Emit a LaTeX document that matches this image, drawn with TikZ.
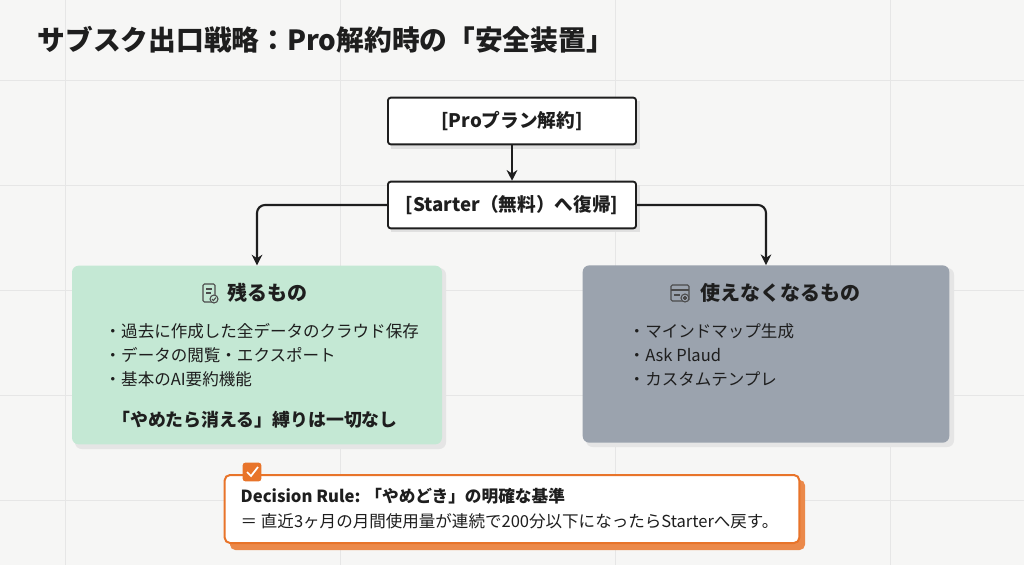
\documentclass[tikz,border=0pt]{standalone}
\usepackage{fontspec}
\setmainfont{Noto Sans CJK JP}
\usetikzlibrary{arrows.meta}
\definecolor{bg}{HTML}{F6F6F5}
\definecolor{gridc}{HTML}{E6E6E6}
\definecolor{greenbox}{HTML}{C4E8D4}
\definecolor{graybox}{HTML}{9BA3AE}
\definecolor{orng}{HTML}{E8742A}
\definecolor{ink}{HTML}{1E1E1E}
\tikzset{
  flow/.style={draw=ink, line width=1.4pt, fill=white, rounded corners=2pt, minimum width=186pt, minimum height=35pt, font=\fontsize{14}{16}\selectfont\bfseries, text=ink},
  conn/.style={draw=ink, line width=1.6pt, -{Stealth[length=8pt,width=8pt]}},
  panel/.style={rounded corners=5pt, minimum height=134pt, minimum width=277pt},
  bul/.style={anchor=west, font=\fontsize{12.4}{14}\selectfont, text=ink},
  ttl/.style={font=\fontsize{15}{17}\selectfont\bfseries, text=ink},
}
\begin{document}
\begin{tikzpicture}[x=0.75pt,y=-0.75pt]
\fill[bg] (0,0) rectangle (1024,565);
\useasboundingbox (0,0) rectangle (1024,565);
\foreach \x in {65,340,615,890} \draw[gridc] (\x,0) -- (\x,565);
\foreach \y in {80,185,290,395,500} \draw[gridc] (0,\y) -- (1024,\y);
\node[anchor=west, font=\fontsize{20.8}{23}\selectfont\bfseries, text=ink] (title) at (33,40) {サブスク出口戦略：Pro解約時の「安全装置」};
% shadows
\fill[black!12] (391,101) rectangle (640,149);
\fill[black!12] (391,185) rectangle (640,232);
\node[flow] (b1) at (512,121) {[Proプラン解約]};
\node[flow] (b2) at (512,205) {[Starter（無料）へ復帰]};
\draw[conn] (b1.south) -- (b2.north);
% panels
\fill[black!10, rounded corners=5pt] (75,268) rectangle (446,449);
\fill[black!10, rounded corners=5pt] (586,268) rectangle (954,447);
\node[panel, fill=greenbox, minimum width=277.5pt] (keep) at (257,355) {};
\node[panel, fill=graybox, minimum width=275pt, minimum height=133pt] (lose) at (766,354) {};
\draw[draw=ink, line width=1.6pt, rounded corners=6pt, -{Stealth[length=8pt,width=8pt]}] (b2.west) -| (keep.north);
\draw[draw=ink, line width=1.6pt, rounded corners=6pt, -{Stealth[length=8pt,width=8pt]}] (b2.east) -| (lose.north);
% keep content
\node[ttl] (kt) at (267,293) {残るもの};
\begin{scope}[shift={(209,293)}, draw=ink!80, line width=0.8pt]
  \draw[rounded corners=1pt] (-6,-9) rectangle (6,9);
  \draw (-3,-4) -- (3,-4) (-3,0) -- (2,0);
  \fill[greenbox] (5,6) circle (4.5);
  \draw (5,6) circle (4);
  \draw (3,6) -- (4.5,7.5) -- (7,4.5);
\end{scope}
\node[bul] (k1) at (100,331) {・過去に作成した全データのクラウド保存};
\node[bul] (k2) at (100,355) {・データの閲覧・エクスポート};
\node[bul] (k3) at (100,379) {・基本のAI要約機能};
\node[font=\fontsize{13.4}{15}\selectfont\bfseries, text=ink] (k4) at (255,420) {「やめたら消える」縛りは一切なし};
% lose content
\node[ttl] (lt) at (780,293) {使えなくなるもの};
\begin{scope}[shift={(680,293)}, draw=ink!80, line width=0.8pt]
  \draw[rounded corners=1pt] (-9,-8) rectangle (9,8);
  \draw (-9,-3) -- (9,-3) (-6,2) -- (0,2);
  \fill[graybox] (5,5) circle (4.5);
  \draw (5,5) circle (4);
  \draw (3,5) -- (7,5) (5,3) -- (5,7);
\end{scope}
\node[bul] (l1) at (624,331) {・マインドマップ生成};
\node[bul] (l2) at (624,355) {・Ask Plaud};
\node[bul] (l3) at (624,379) {・カスタムテンプレ};
% decision rule
\fill[orng!85, rounded corners=4pt] (230,480) rectangle (805,550);
\node[draw=orng, line width=1.5pt, fill=white, rounded corners=4pt, minimum width=431pt, minimum height=51pt] (rule) at (512,509) {};
\node[fill=orng, rounded corners=2pt, minimum size=14pt, inner sep=0pt] (chk) at (252,472) {};
\draw[white, line width=1.3pt] (247,472) -- (251,476) -- (258,467);
\node[anchor=west, font=\fontsize{12.5}{14}\selectfont\bfseries, text=ink] (r1) at (236,496) {Decision Rule: 「やめどき」の明確な基準};
\node[anchor=west, font=\fontsize{12.4}{14}\selectfont, text=ink] (r2) at (236,521) {＝ 直近3ヶ月の月間使用量が連続で200分以下になったらStarterへ戻す。};
\end{tikzpicture}
\end{document}
